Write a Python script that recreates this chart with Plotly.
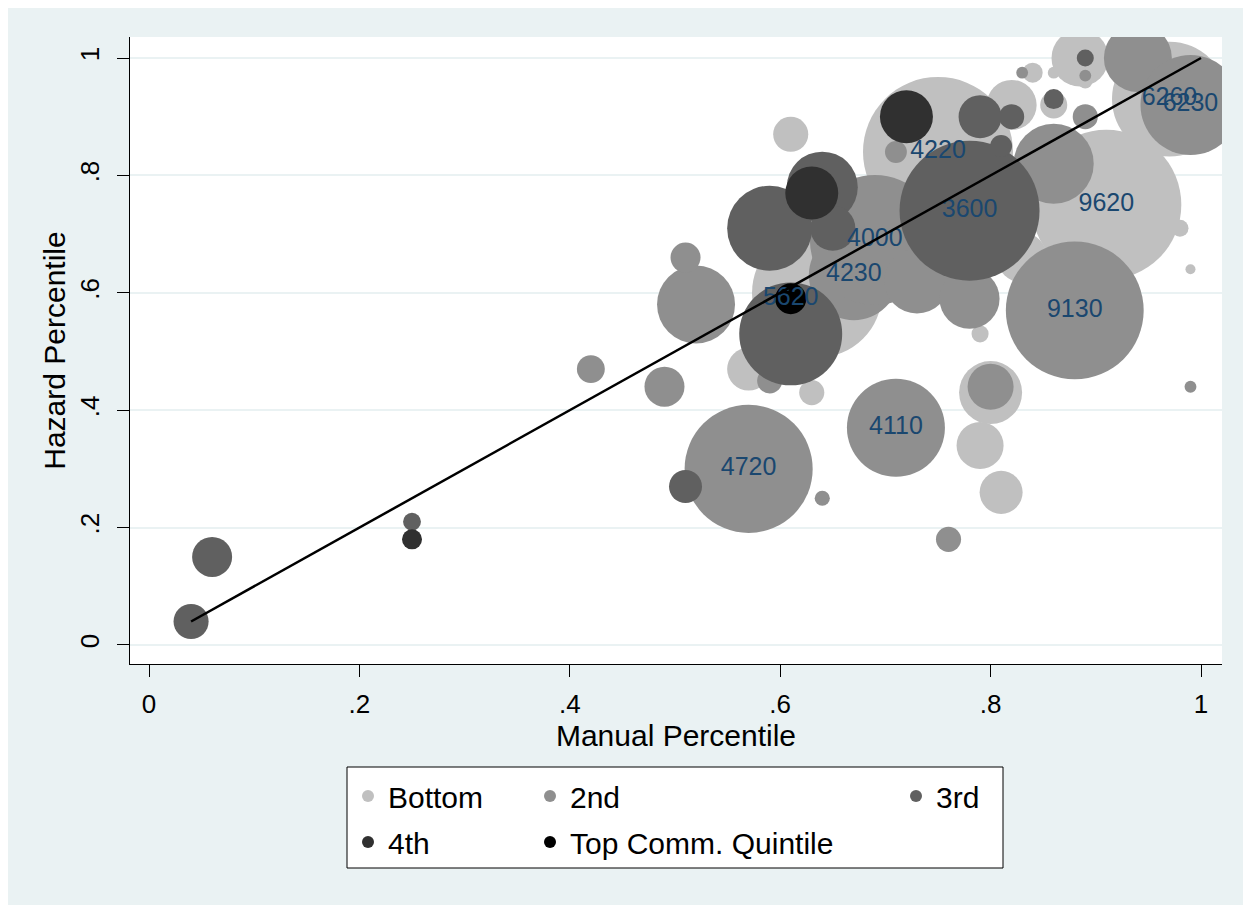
import plotly.graph_objects as go

# ---------------- data ----------------
# weights are relative employment weights (bubble area)
bottom_x = [0.57, 0.63, 0.79, 0.81, 0.80, 0.79, 0.61, 0.635, 0.75, 0.91, 0.97, 0.885, 0.76, 0.82, 0.84, 0.86, 0.86, 0.98, 0.99, 0.83, 0.89]
bottom_y = [0.47, 0.43, 0.34, 0.26, 0.43, 0.53, 0.87, 0.60, 0.84, 0.75, 0.93, 1.00, 0.913, 0.92, 0.975, 0.975, 0.92, 0.71, 0.64, 0.66, 0.96]
bottom_w = [18.5, 6.3, 22.1, 18.5, 39.7, 2.9, 12.3, 169, 225, 225, 132, 32.5, 0.6, 25, 4.0, 1.4, 7.3, 2.9, 1.0, 25, 2.0]
bottom_lab = ["", "", "", "", "", "", "", "", "4220", "9620", "6260", "", "", "", "", "", "", "", "", "", ""]

second_x = [0.57, 0.64, 0.71, 0.76, 0.80, 0.42, 0.49, 0.59, 0.52, 0.51, 0.67, 0.69, 0.73, 0.78, 0.88, 0.99, 0.71, 0.86, 0.94, 0.99, 0.83, 0.89, 0.89]
second_y = [0.30, 0.25, 0.37, 0.18, 0.44, 0.47, 0.44, 0.45, 0.58, 0.66, 0.63, 0.69, 0.62, 0.59, 0.57, 0.44, 0.84, 0.82, 1.00, 0.92, 0.975, 0.90, 0.97]
second_w = [164, 2.3, 96, 6.3, 21.2, 7.8, 16, 6.3, 60.8, 9.0, 81, 169, 42.3, 36, 190, 1.4, 4.8, 64, 46.2, 100, 1.4, 6.3, 1.4]
second_lab = ["4720", "", "4110", "", "", "", "", "", "", "", "4230", "4000", "", "", "9130", "", "", "", "", "6230", "", "", ""]

third_x = [0.04, 0.06, 0.25, 0.51, 0.61, 0.59, 0.64, 0.65, 0.78, 0.79, 0.82, 0.81, 0.86, 0.89]
third_y = [0.04, 0.15, 0.21, 0.27, 0.53, 0.71, 0.78, 0.71, 0.74, 0.90, 0.90, 0.85, 0.93, 1.00]
third_w = [12.3, 16, 3.2, 10.9, 106, 72.3, 50.4, 20.3, 196, 18.5, 6.3, 4.8, 4.0, 2.9]
third_lab = ["", "", "", "", "", "", "", "", "3600", "", "", "", "", ""]

fourth_x = [0.25, 0.63, 0.72]
fourth_y = [0.18, 0.77, 0.90]
fourth_w = [4.0, 28.1, 28.1]
fourth_lab = ["", "", ""]

top_x = [0.61]
top_y = [0.59]
top_w = [9.6]
top_lab = ["5620"]

fit_x = [0.04, 1.0]
fit_y = [0.04, 1.0]

tick_vals = [0, 0.2, 0.4, 0.6, 0.8, 1.0]
tick_text = ["0", ".2", ".4", ".6", ".8", "1"]

group_names = ["Bottom", "2nd", "3rd", "4th", "Top Comm. Quintile"]

# ---------------- styling ----------------
FONT = "Liberation Sans, Arial, sans-serif"
BG = "#EAF2F3"
colors = ["#C0C0C0", "#8F8F8F", "#606060", "#303030", "#000000"]

groups = [
    (bottom_x, bottom_y, bottom_w, bottom_lab),
    (second_x, second_y, second_w, second_lab),
    (third_x, third_y, third_w, third_lab),
    (fourth_x, fourth_y, fourth_w, fourth_lab),
    (top_x, top_y, top_w, top_lab),
]
legend_ids = ["legend", "legend2", "legend3", "legend4", "legend5"]

fig = go.Figure()
for (gx, gy, gw, gl), name, col, lid in zip(groups, group_names, colors, legend_ids):
    fig.add_trace(go.Scatter(
        x=gx, y=gy, mode="markers", name=name, legend=lid,
        marker=dict(size=gw, sizemode="area", sizeref=0.02, color=col,
                    line=dict(width=0), opacity=1),
        hoverinfo="skip",
    ))

lab_x, lab_y, lab_t = [], [], []
for gx, gy, gw, gl in groups:
    for xx, yy, tt in zip(gx, gy, gl):
        if tt:
            lab_x.append(xx); lab_y.append(yy); lab_t.append(tt)
fig.add_trace(go.Scatter(
    x=lab_x, y=lab_y, text=lab_t, mode="text", showlegend=False,
    textposition="middle center",
    textfont=dict(family=FONT, size=25, color="#1A476F"),
    hoverinfo="skip",
))

fig.add_trace(go.Scatter(
    x=fit_x, y=fit_y, mode="lines", showlegend=False,
    line=dict(color="black", width=2.5), hoverinfo="skip",
))

# page body has an 8px margin; screen coords below are relative to the window
OFF = 8
W, H = 1237, 897
PL, PT, PR, PB = 130, 37, 1222, 664          # plot area in screen px
L, T = PL - OFF, PT - OFF
R = (OFF + W) - PR
B = (OFF + H) - PB
pw, ph = PR - PL, PB - PT

def px2paper_x(px):
    return (px - PL) / pw

def px2paper_y(py):
    return (PB - py) / ph

legend_pos = [(367, 796), (549, 796), (915, 796), (367, 842), (549, 842)]
legend_layout = {}
for lid, (mx, my) in zip(legend_ids, legend_pos):
    legend_layout[lid] = dict(
        x=px2paper_x(mx - 19), y=px2paper_y(my), xanchor="left", yanchor="middle",
        bgcolor="rgba(0,0,0,0)", borderwidth=0, itemsizing="constant",
        font=dict(family=FONT, size=30, color="black"),
    )

fig.update_layout(
    width=W, height=H,
    margin=dict(l=L, r=R, t=T, b=B, autoexpand=False),
    paper_bgcolor=BG, plot_bgcolor="white",
    font=dict(family=FONT, color="black"),
    xaxis=dict(
        range=[-0.01806, 1.01996], tickvals=tick_vals, ticktext=tick_text,
        ticks="outside", ticklen=12, tickcolor="black", tickwidth=1,
        showline=True, linecolor="black", linewidth=1,
        showgrid=False, zeroline=False, ticklabelstandoff=5,
        tickfont=dict(family=FONT, size=26),
        title=dict(text="Manual Percentile", font=dict(family=FONT, size=30), standoff=0),
        automargin=False,
    ),
    yaxis=dict(
        range=[-0.0324, 1.0358], tickvals=tick_vals, ticktext=tick_text,
        ticks="outside", ticklen=12, tickcolor="black", tickwidth=1, tickangle=-90,
        showline=True, linecolor="black", linewidth=1, ticklabelstandoff=8,
        showgrid=True, gridcolor=BG, gridwidth=2, zeroline=False,
        tickfont=dict(family=FONT, size=26),
        title=dict(text="Hazard Percentile", font=dict(family=FONT, size=30), standoff=0),
        automargin=False,
    ),
    shapes=[
        dict(type="rect", xref="paper", yref="paper", layer="below",
             x0=px2paper_x(347), x1=px2paper_x(1003), y0=px2paper_y(868), y1=px2paper_y(767),
             line=dict(color="black", width=1), fillcolor="white"),
    ],
    **legend_layout,
)

fig.write_html("out.html")
